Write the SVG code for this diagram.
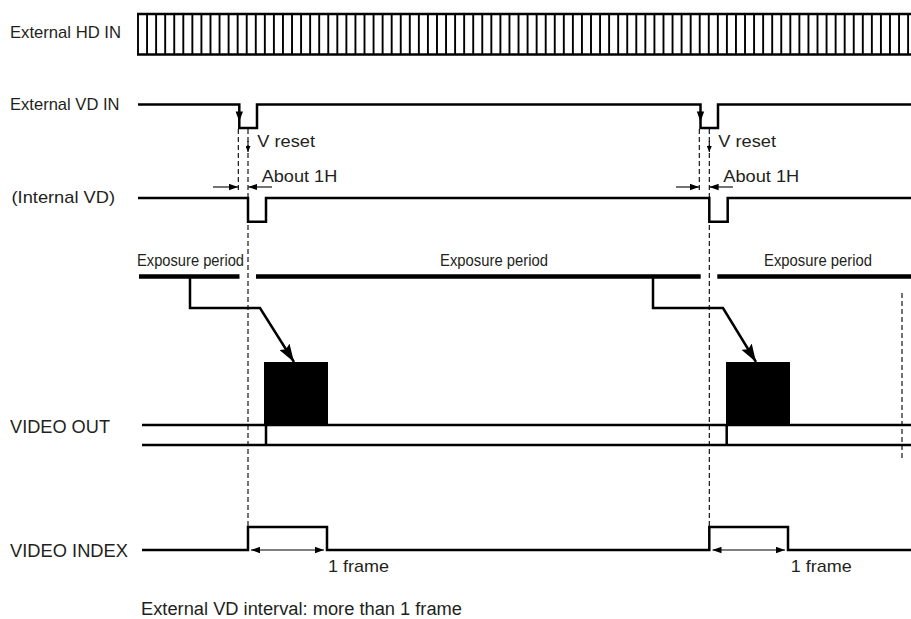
<svg xmlns="http://www.w3.org/2000/svg" width="911" height="619" viewBox="0 0 911 619">
<style>
text{font-family:"Liberation Sans",Arial,sans-serif;fill:#231f20}
.lbl{font-size:17px}
.big{font-size:18px}
.exp{font-size:16.5px}
.sig{fill:none;stroke:#000;stroke-width:2.5;stroke-linejoin:miter}
.thin{fill:none;stroke:#000;stroke-width:1.1}
.dash{fill:none;stroke:#000;stroke-width:1.1;stroke-dasharray:5 3}
.ex{fill:none;stroke:#000;stroke-width:4.5}
.blk{fill:#000}
</style>
<defs>
<marker id="ah" markerUnits="userSpaceOnUse" markerWidth="9" markerHeight="7" refX="9" refY="3.5" orient="auto-start-reverse"><path d="M0,0.3 L9,3.5 L0,6.7 z" fill="#000"/></marker>
<marker id="ahs" markerUnits="userSpaceOnUse" markerWidth="6" markerHeight="5" refX="6" refY="2.5" orient="auto"><path d="M0,0 L6,2.5 L0,5 z" fill="#000"/></marker>
<marker id="big" markerUnits="userSpaceOnUse" markerWidth="18" markerHeight="12" refX="18" refY="6" orient="auto"><path d="M0,0 L18,6 L0,12 L3,6 z" fill="#000"/></marker>
</defs>

<g id="hd-in">
<text class="lbl" x="10" y="38" textLength="111" lengthAdjust="spacingAndGlyphs">External HD IN</text>
<path class="sig" d="M137,14 H912 M137,54.5 H912"/>
<path fill="none" stroke="#000" stroke-width="1.9" d="M138,14V54.5M147.06,14V54.5M156.12,14V54.5M165.18,14V54.5M174.24,14V54.5M183.3,14V54.5M192.36,14V54.5M201.42,14V54.5M210.48,14V54.5M219.54,14V54.5M228.6,14V54.5M237.66,14V54.5M246.72,14V54.5M255.78,14V54.5M264.84,14V54.5M273.9,14V54.5M282.96,14V54.5M292.02,14V54.5M301.08,14V54.5M310.14,14V54.5M319.2,14V54.5M328.26,14V54.5M337.32,14V54.5M346.38,14V54.5M355.44,14V54.5M364.5,14V54.5M373.56,14V54.5M382.62,14V54.5M391.68,14V54.5M400.74,14V54.5M409.8,14V54.5M418.86,14V54.5M427.92,14V54.5M436.98,14V54.5M446.04,14V54.5M455.1,14V54.5M464.16,14V54.5M473.22,14V54.5M482.28,14V54.5M491.34,14V54.5M500.4,14V54.5M509.46,14V54.5M518.52,14V54.5M527.58,14V54.5M536.64,14V54.5M545.7,14V54.5M554.76,14V54.5M563.82,14V54.5M572.88,14V54.5M581.94,14V54.5M591,14V54.5M600.06,14V54.5M609.12,14V54.5M618.18,14V54.5M627.24,14V54.5M636.3,14V54.5M645.36,14V54.5M654.42,14V54.5M663.48,14V54.5M672.54,14V54.5M681.6,14V54.5M690.66,14V54.5M699.72,14V54.5M708.78,14V54.5M717.84,14V54.5M726.9,14V54.5M735.96,14V54.5M745.02,14V54.5M754.08,14V54.5M763.14,14V54.5M772.2,14V54.5M781.26,14V54.5M790.32,14V54.5M799.38,14V54.5M808.44,14V54.5M817.5,14V54.5M826.56,14V54.5M835.62,14V54.5M844.68,14V54.5M853.74,14V54.5M862.8,14V54.5M871.86,14V54.5M880.92,14V54.5M889.98,14V54.5M899.04,14V54.5M908.1,14V54.5"/>
</g>

<g id="vd-in">
<text class="lbl" x="10" y="110" textLength="109.5" lengthAdjust="spacingAndGlyphs">External VD IN</text>
<path class="sig" d="M138,104.5 H239.3 V128 H257 V104.5 H700.5 V128 H718 V104.5 H912"/>
<polygon class="blk" points="239.3,121.5 235.6,111.5 243,111.5"/>
<polygon class="blk" points="700.5,121.5 696.8,111.5 704.2,111.5"/>
</g>

<g id="internal-vd">
<text class="lbl" x="11.5" y="203" textLength="103.5" lengthAdjust="spacingAndGlyphs">(Internal VD)</text>
<path class="sig" d="M138,198 H248 V221.7 H266 V198 H709.3 V221.7 H727.7 V198 H912"/>
</g>

<g id="exposure">
<text class="exp" x="137" y="266" textLength="107" lengthAdjust="spacingAndGlyphs">Exposure period</text>
<text class="exp" x="440" y="266" textLength="108" lengthAdjust="spacingAndGlyphs">Exposure period</text>
<text class="exp" x="764" y="266" textLength="108" lengthAdjust="spacingAndGlyphs">Exposure period</text>
<path class="ex" d="M139,276.5 H239.5 M256,276.5 H700.7 M717.3,276.5 H912"/>
</g>

<g id="video-out">
<text class="big" x="10" y="433" textLength="100" lengthAdjust="spacingAndGlyphs">VIDEO OUT</text>
<path class="sig" d="M142,425 H912 M142,445 H912 M266,425 V445 M726.7,425 V445"/>
<rect class="blk" x="264" y="362" width="64" height="63"/>
<rect class="blk" x="726" y="362" width="64" height="63"/>
</g>

<g id="video-index">
<text class="big" x="10" y="557" textLength="118" lengthAdjust="spacingAndGlyphs">VIDEO INDEX</text>
<path class="sig" d="M142,550 H248 V527 H327 V550 H709.3 V527 H788 V550 H912"/>
<text class="lbl" x="328" y="572" textLength="61" lengthAdjust="spacingAndGlyphs">1 frame</text>
<text class="lbl" x="790.7" y="572" textLength="61" lengthAdjust="spacingAndGlyphs">1 frame</text>
</g>

<g id="annotations">
<text class="lbl" x="257.3" y="147" textLength="57.7" lengthAdjust="spacingAndGlyphs">V reset</text>
<text class="lbl" x="718.3" y="147" textLength="57.7" lengthAdjust="spacingAndGlyphs">V reset</text>
<text class="lbl" x="261.7" y="182" textLength="75.6" lengthAdjust="spacingAndGlyphs">About 1H</text>
<text class="lbl" x="723.3" y="182" textLength="76" lengthAdjust="spacingAndGlyphs">About 1H</text>
<text class="big" x="141" y="615" textLength="321" lengthAdjust="spacingAndGlyphs">External VD interval: more than 1 frame</text>
</g>

<g id="connectors">
<path class="dash" d="M238.3,129 V190 M248,129 V527 M699.3,129 V190 M709.3,129 V527 M902,293 V458"/>
<path class="thin" d="M248,141 V152" marker-end="url(#ahs)"/>
<path class="thin" d="M709.3,141 V152" marker-end="url(#ahs)"/>
<path class="thin" d="M213,187 H238" marker-end="url(#ah)"/>
<path class="thin" d="M272,187 H248.3" marker-end="url(#ah)"/>
<path class="thin" d="M676,187 H699" marker-end="url(#ah)"/>
<path class="thin" d="M733,187 H709.6" marker-end="url(#ah)"/>
<path class="thin" d="M251,550 H324" marker-start="url(#ah)" marker-end="url(#ah)"/>
<path class="thin" d="M712.5,550 H785" marker-start="url(#ah)" marker-end="url(#ah)"/>
<path class="sig" d="M190,277 V308 H260 L294,362" marker-end="url(#big)"/>
<path class="sig" d="M653,277 V308 H723 L756,362" marker-end="url(#big)"/>
</g>
</svg>
